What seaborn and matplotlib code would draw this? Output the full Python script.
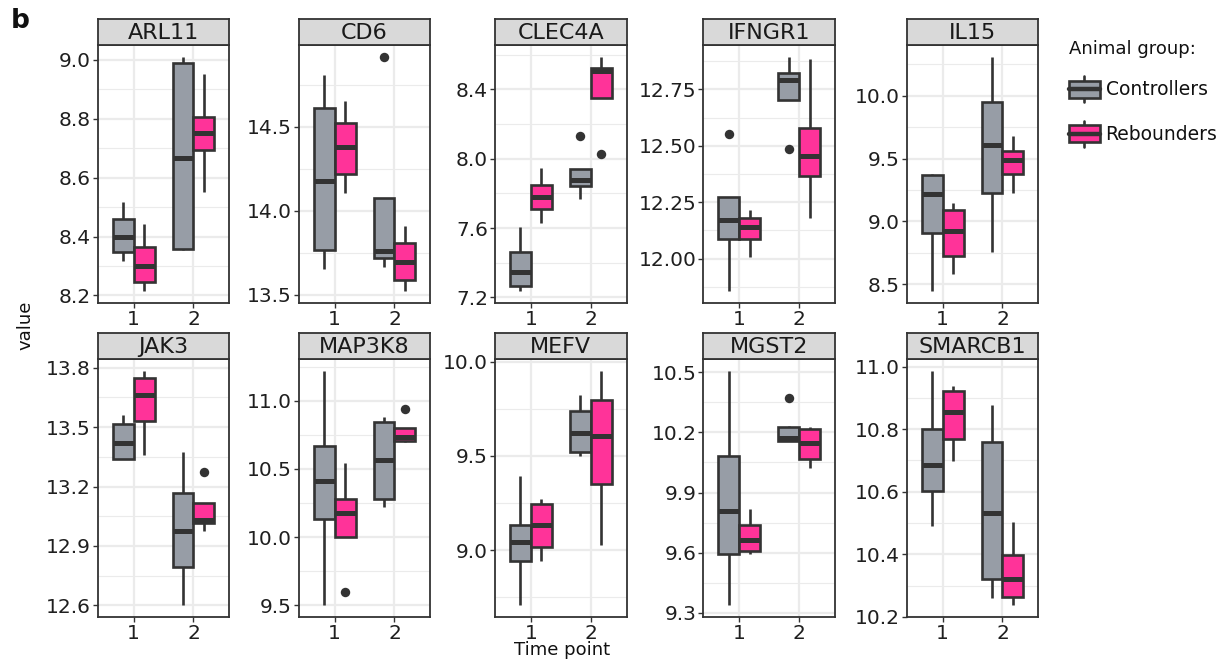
import numpy as np
import pandas as pd
import matplotlib
matplotlib.use("Agg")
import matplotlib.pyplot as plt
import seaborn as sns
from matplotlib.legend_handler import HandlerBase
from matplotlib.patches import Rectangle, Patch
from matplotlib.lines import Line2D

# ---------------- data ----------------
genes = ["ARL11", "CD6", "CLEC4A", "IFNGR1", "IL15",
         "JAK3", "MAP3K8", "MEFV", "MGST2", "SMARCB1"]
groups = ["Controllers", "Rebounders"]
timepoints = ["1", "2"]

# five-number summaries [whisker low, Q1, median, Q3, whisker high]
# box order: Controllers t1, Rebounders t1, Controllers t2, Rebounders t2
ARL11 = [[8.318, 8.349, 8.400, 8.460, 8.517], [8.214, 8.247, 8.299, 8.366, 8.441],
         [8.355, 8.357, 8.668, 8.989, 9.011], [8.551, 8.693, 8.752, 8.805, 8.952]]
CD6 = [[13.653, 13.768, 14.176, 14.609, 14.808], [14.102, 14.220, 14.381, 14.524, 14.653],
       [13.663, 13.719, 13.762, 14.077, 14.077], [13.520, 13.585, 13.695, 13.808, 13.908]]
CLEC4A = [[7.235, 7.267, 7.348, 7.460, 7.605], [7.630, 7.711, 7.779, 7.846, 7.947],
          [7.769, 7.842, 7.875, 7.943, 7.943], [8.352, 8.352, 8.506, 8.522, 8.589]]
IFNGR1 = [[11.855, 12.086, 12.173, 12.274, 12.274], [12.007, 12.086, 12.141, 12.182, 12.214],
          [12.703, 12.703, 12.791, 12.825, 12.895], [12.180, 12.365, 12.456, 12.581, 12.883]]
IL15 = [[8.444, 8.909, 9.217, 9.373, 9.381], [8.580, 8.726, 8.925, 9.089, 9.150],
        [8.758, 9.230, 9.612, 9.947, 10.311], [9.230, 9.381, 9.487, 9.559, 9.679]]
JAK3 = [[13.337, 13.337, 13.421, 13.518, 13.560], [13.357, 13.530, 13.661, 13.749, 13.785],
        [12.600, 12.791, 12.977, 13.168, 13.374], [12.977, 13.017, 13.033, 13.116, 13.116]]
MAP3K8 = [[9.500, 10.136, 10.413, 10.667, 11.220], [10.002, 10.002, 10.173, 10.278, 10.545],
          [10.222, 10.276, 10.564, 10.843, 10.878], [10.699, 10.705, 10.731, 10.797, 10.800]]
MEFV = [[8.707, 8.943, 9.041, 9.135, 9.393], [8.943, 9.014, 9.135, 9.242, 9.272],
        [9.497, 9.520, 9.622, 9.739, 9.822], [9.028, 9.352, 9.604, 9.799, 9.952]]
MGST2 = [[9.337, 9.592, 9.810, 10.082, 10.508], [9.592, 9.609, 9.663, 9.738, 9.818],
         [10.157, 10.157, 10.172, 10.228, 10.232], [10.024, 10.065, 10.149, 10.219, 10.228]]
SMARCB1 = [[10.491, 10.601, 10.687, 10.800, 10.987], [10.697, 10.770, 10.855, 10.923, 10.939],
           [10.259, 10.322, 10.532, 10.759, 10.877], [10.237, 10.263, 10.320, 10.398, 10.502]]

summaries = {"ARL11": ARL11, "CD6": CD6, "CLEC4A": CLEC4A, "IFNGR1": IFNGR1, "IL15": IL15,
             "JAK3": JAK3, "MAP3K8": MAP3K8, "MEFV": MEFV, "MGST2": MGST2, "SMARCB1": SMARCB1}

outlier_gene = ["CD6", "CLEC4A", "CLEC4A", "IFNGR1", "IFNGR1", "JAK3", "MAP3K8", "MAP3K8", "MGST2"]
outlier_time = ["2", "2", "2", "1", "2", "2", "1", "2", "2"]
outlier_group = ["Controllers", "Controllers", "Rebounders", "Controllers", "Controllers",
                 "Rebounders", "Rebounders", "Rebounders", "Controllers"]
outlier_value = [14.916, 8.130, 8.026, 12.553, 12.488, 13.273, 9.596, 10.939, 10.370]

ytick_labels = {
    "ARL11": ["8.2", "8.4", "8.6", "8.8", "9.0"],
    "CD6": ["13.5", "14.0", "14.5"],
    "CLEC4A": ["7.2", "7.6", "8.0", "8.4"],
    "IFNGR1": ["12.00", "12.25", "12.50", "12.75"],
    "IL15": ["8.5", "9.0", "9.5", "10.0"],
    "JAK3": ["12.6", "12.9", "13.2", "13.5", "13.8"],
    "MAP3K8": ["9.5", "10.0", "10.5", "11.0"],
    "MEFV": ["9.0", "9.5", "10.0"],
    "MGST2": ["9.3", "9.6", "9.9", "10.2", "10.5"],
    "SMARCB1": ["10.2", "10.4", "10.6", "10.8", "11.0"],
}

# ---------------- long tables ----------------
box_keys = [("1", "Controllers"), ("1", "Rebounders"), ("2", "Controllers"), ("2", "Rebounders")]
rows = []
for g in genes:
    for (t, grp), vals in zip(box_keys, summaries[g]):
        for v in vals:
            rows.append({"gene": g, "time": t, "group": grp, "value": v})
df = pd.DataFrame(rows)
out_df = pd.DataFrame({"gene": outlier_gene, "time": outlier_time,
                       "group": outlier_group, "value": outlier_value})

# ---------------- style ----------------
sns.set_theme(style="white")
plt.rcParams["font.family"] = ["DejaVu Sans"]

EDGE = "#333333"
palette = {"Controllers": "#979DA6", "Rebounders": "#FF3399"}
dark = {"Controllers": EDGE, "Rebounders": EDGE}
GRID = "#EBEBEB"
TXT = "#1f1f1f"

W, H = 1232, 663
fig = plt.figure(figsize=(W / 100, H / 100), dpi=100)

lefts = [97.7, 298.7, 495.0, 703.3, 906.7]
pw = 131.7
row_tops = [45.0, 359.0]
ph = 258.0
sh = 26.0


def fr(l, t, w, h):
    return [l / W, 1 - (t + h) / H, w / W, h / H]


for i, g in enumerate(genes):
    r, c = divmod(i, 5)
    l, t = lefts[c], row_tops[r]
    ax = fig.add_axes(fr(l, t, pw, ph))
    sub = df[df.gene == g]
    sns.boxplot(data=sub, x="time", y="value", hue="group", order=timepoints,
                hue_order=groups, palette=palette, saturation=1, width=0.7, gap=0,
                whis=(0, 100), linewidth=1.9, linecolor=EDGE, showcaps=False,
                showfliers=False, medianprops=dict(linewidth=3.6, color=EDGE),
                legend=False, ax=ax)
    osub = out_df[out_df.gene == g]
    if len(osub):
        sns.pointplot(data=osub, x="time", y="value", hue="group", order=timepoints,
                      hue_order=groups, dodge=0.35, errorbar=None, palette=dark,
                      markers="o", linestyle="none", markersize=6.8,
                      markeredgewidth=0, legend=False, ax=ax)
    vals = np.concatenate([np.ravel(summaries[g]), osub["value"].to_numpy()])
    lo, hi = vals.min(), vals.max()
    pad = (hi - lo) * 0.05

    labs = ytick_labels[g]
    ticks = [float(s) for s in labs]
    step = ticks[1] - ticks[0]
    minors = np.arange(ticks[0] - step / 2, ticks[-1] + step, step)
    ax.set_yticks(ticks)
    ax.set_yticklabels(labs)
    ax.set_yticks(minors, minor=True)
    ax.set_xticks([0, 1])
    ax.set_xticklabels(timepoints)
    ax.set_ylim(lo - pad, hi + pad)
    ax.set_xlim(-0.6, 1.6)

    ax.set_axisbelow(True)
    ax.yaxis.grid(True, which="major", color=GRID, lw=1.6)
    ax.yaxis.grid(True, which="minor", color=GRID, lw=0.8)
    ax.xaxis.grid(True, which="major", color=GRID, lw=1.6)
    ax.tick_params(which="major", length=3.5, width=1.0, color=EDGE, pad=1.5,
                   labelsize=14.5, labelcolor=TXT, left=True, bottom=True)
    ax.tick_params(which="minor", length=0)
    ax.set_xlabel("")
    ax.set_ylabel("")
    for s in ax.spines.values():
        s.set_color(EDGE)
        s.set_linewidth(1.3)

    sax = fig.add_axes(fr(l, t - sh, pw, sh))
    sax.set_facecolor("#D9D9D9")
    sax.set_xticks([])
    sax.set_yticks([])
    for s in sax.spines.values():
        s.set_color(EDGE)
        s.set_linewidth(1.3)
    sax.text(0.5, 0.45, g, ha="center", va="center", fontsize=16, color="#1a1a1a",
             transform=sax.transAxes)


class BoxKeyHandler(HandlerBase):
    def create_artists(self, legend, orig_handle, xdescent, ydescent, width, height,
                       fontsize, trans):
        fc = orig_handle.get_facecolor()
        x0, y0 = -xdescent, -ydescent
        bh = height * 0.64
        by = y0 + (height - bh) / 2
        xm = x0 + width / 2
        w1 = Line2D([xm, xm], [y0, by], color=EDGE, lw=1.9, transform=trans)
        w2 = Line2D([xm, xm], [by + bh, y0 + height], color=EDGE, lw=1.9, transform=trans)
        rect = Rectangle((x0, by), width, bh, facecolor=fc, edgecolor=EDGE, lw=1.9,
                         transform=trans)
        med = Line2D([x0, x0 + width], [y0 + height / 2] * 2, color=EDGE, lw=3.2,
                     transform=trans)
        return [w1, w2, rect, med]


handles = [Patch(facecolor=palette[gname], edgecolor=EDGE) for gname in groups]
leg = fig.legend(handles=handles, labels=groups, title="Animal group:",
                 handler_map={Patch: BoxKeyHandler()},
                 loc="upper left", bbox_to_anchor=(1069 / W, 1 - 40 / H),
                 frameon=False, fontsize=13.5, title_fontsize=13,
                 handlelength=1.65, handleheight=1.76, handletextpad=0.3,
                 labelspacing=0.98, borderpad=0, borderaxespad=0, alignment="left")
for txt in leg.get_texts():
    txt.set_color("#111111")
leg.get_title().set_color("#111111")

fig.text(11 / W, 1 - 8 / H, "b", fontsize=19, fontweight="bold", ha="left", va="top",
         color="#111111")
fig.text(25 / W, 1 - 325 / H, "value", rotation=90, ha="center", va="center",
         fontsize=13, color="#111111")
fig.text(562 / W, 1 - 650 / H, "Time point", ha="center", va="center",
         fontsize=13, color="#111111")

fig.savefig("out.png", dpi=100)
